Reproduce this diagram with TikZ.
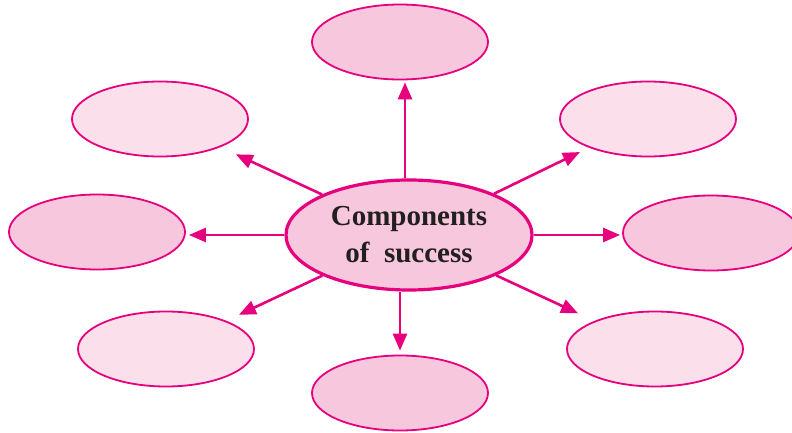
\documentclass[tikz,border=0pt]{standalone}
\usepackage{fontspec}
\setmainfont{Liberation Serif}
\usetikzlibrary{shapes.geometric, arrows.meta}

\definecolor{pinkline}{RGB}{230,0,126}
\definecolor{pinkdark}{RGB}{247,200,221}
\definecolor{pinklight}{RGB}{251,223,234}
\definecolor{inkgray}{RGB}{35,31,32}

\begin{document}
\begin{tikzpicture}[x = 1pt, y = -1pt,
    every node/.style = { draw = pinkline, shape = ellipse, inner sep = 0pt },
    leaf/.style = { line width = 1.8pt, minimum width = 176pt, minimum height = 75pt },
    dark/.style = { fill = pinkdark },
    light/.style = { fill = pinklight },
    hub/.style = { line width = 3.2pt, fill = pinkdark, minimum width = 246pt, minimum height = 110pt,
      align = center, text = inkgray, font = \bfseries\fontsize{29}{37}\selectfont },
    link/.style = { draw = pinkline, line width = 2.6pt, -{Triangle[length = 17pt, width = 14pt]} }]
      \useasboundingbox (0,0) rectangle (792,433);
      \clip (0,0) rectangle (792,433);
      \node [hub] (ctr) at (409,235) { Components \\ of\ \ success };
      \node [leaf, dark] (top) at (400,42) {};
      \node [leaf, light] (tl) at (160,119) {};
      \node [leaf, light] (tr) at (648,119) {};
      \node [leaf, dark] (lft) at (97,232) {};
      \node [leaf, dark] (rgt) at (711,233) {};
      \node [leaf, light] (bl) at (166,349) {};
      \node [leaf, dark] (bot) at (400,393) {};
      \node [leaf, light] (br) at (655,349) {};
      % straight arrows
      \draw [link, shorten >= 2pt] ([xshift = 5pt] ctr.north -| top) -- ([xshift = 5pt] top.south);
      \draw [link, shorten >= 4pt] (ctr.south -| bot) -- (bot);
      \draw [link, shorten >= 3pt] (ctr.west) -- (lft.east |- ctr.west);
      \draw [link, shorten >= 2pt] (ctr.east) -- (rgt.west |- ctr.east);
      % slanted arrows
      \draw [link, shorten >= 17pt] (ctr) -- (tl);
      \draw [link, shorten >= 10pt] (ctr) -- (tr);
      \draw [link, shorten >= 14pt] (ctr) -- (bl);
      \draw [link, shorten >= 18pt] (ctr) -- (br);
    \end{tikzpicture}
\end{document}
